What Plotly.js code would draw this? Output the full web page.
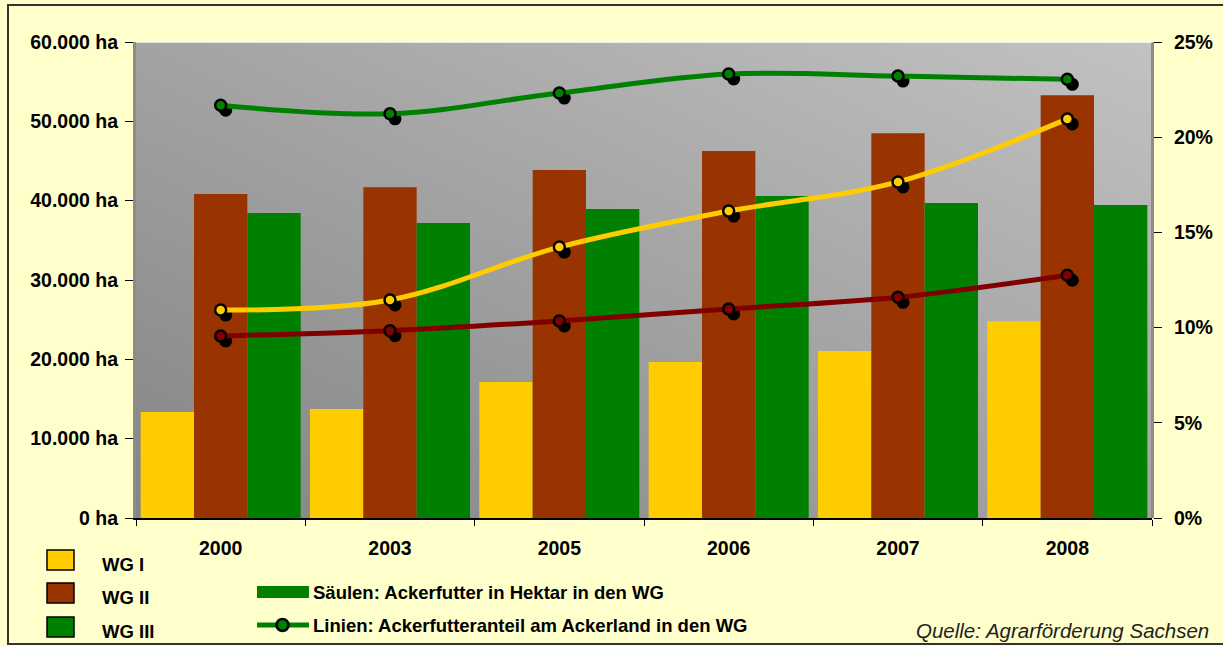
<!DOCTYPE html>
<html>
<head>
<meta charset="utf-8">
<script src="https://cdn.plot.ly/plotly-3.0.1.min.js"></script>
<style>html,body{margin:0;padding:0;background:#FFFFCC;}#chart{width:1223px;height:646px;}</style>
</head>
<body>
<div id="chart"></div>
<script>
// ---- data ----
const years = ['2000', '2003', '2005', '2006', '2007', '2008'];
const wg1Ha = [13350, 13750, 17150, 19650, 21050, 24800];
const wg2Ha = [40850, 41700, 43850, 46250, 48500, 53300];
const wg3Ha = [38450, 37200, 38950, 40600, 39700, 39450];
const wg1Pct = [10.92, 11.45, 14.23, 16.12, 17.65, 20.96];
const wg2Pct = [9.56, 9.84, 10.35, 10.98, 11.59, 12.75];
const wg3Pct = [21.68, 21.23, 22.32, 23.32, 23.21, 23.04];
const seriesNames = ['WG I', 'WG II', 'WG III'];
const legendBars = 'Säulen: Ackerfutter in Hektar in den WG';
const legendLines = 'Linien: Ackerfutteranteil am Ackerland in den WG';
const sourceText = 'Quelle: Agrarförderung Sachsen';

// ---- styling ----
const barColors = ['#FFCC00', '#993300', '#008000'];
const lineColors = ['#FFCC00', '#800000', '#008000'];
const FONT = 'Liberation Sans, Arial, sans-serif';
const W = 1223, H = 646;
const L = 136, R = 71, T = 42, B = 128;
const PW = W - L - R, PH = H - T - B;
const SH = 5; // shadow offset in px
const px = p => (p - L) / PW;
const py = p => (T + PH - p) / PH;

const traces = [];
[wg1Ha, wg2Ha, wg3Ha].forEach((vals, i) => {
  traces.push({
    type: 'bar', x: years, y: vals, name: seriesNames[i],
    marker: {color: barColors[i], line: {width: 0}},
    xaxis: 'x', yaxis: 'y', hoverinfo: 'skip'
  });
});
// shadows of the markers
[wg1Pct, wg2Pct, wg3Pct].forEach((vals, i) => {
  traces.push({
    type: 'scatter', mode: 'markers', x: years, y: vals,
    marker: {color: '#000', size: 13},
    xaxis: 'x2', yaxis: 'y3', cliponaxis: false, hoverinfo: 'skip'
  });
});
// lines
[wg1Pct, wg2Pct, wg3Pct].forEach((vals, i) => {
  traces.push({
    type: 'scatter', mode: 'lines+markers', x: years, y: vals,
    line: {color: lineColors[i], width: 5, shape: 'spline', smoothing: 1},
    marker: {color: lineColors[i], size: 11, line: {color: '#000', width: 2.5}},
    xaxis: 'x3', yaxis: 'y4', cliponaxis: false, hoverinfo: 'skip'
  });
});

const gradSvg = '<svg xmlns="http://www.w3.org/2000/svg" width="' + PW + '" height="' + PH + '" viewBox="0 0 ' + PW + ' ' + PH + '" preserveAspectRatio="none">' +
  '<defs><linearGradient id="g" x1="0" y1="1" x2="1" y2="0">' +
  '<stop offset="0" stop-color="#848484"/><stop offset="1" stop-color="#c2c2c2"/>' +
  '</linearGradient></defs><rect x="0" y="0" width="' + PW + '" height="' + PH + '" fill="url(#g)"/></svg>';

const tickFont = {family: FONT, size: 19.5, color: '#000', weight: 'bold'};
const legFont = {family: FONT, size: 18.5, color: '#000', weight: 'bold'};

const shapes = [
  // outer frame
  {type: 'rect', xref: 'paper', yref: 'paper', x0: px(8), x1: px(1240), y0: py(644), y1: py(5),
   line: {color: '#333', width: 2}, layer: 'below'},
  // white top edge of plot area
  {type: 'line', xref: 'paper', yref: 'paper', x0: 0, x1: 1, y0: 1, y1: 1,
   line: {color: '#ffffff', width: 1.5}, layer: 'above'}
];
const sqY = [560, 593, 627];
sqY.forEach((cy, i) => {
  shapes.push({type: 'rect', xref: 'paper', yref: 'paper', x0: px(47), x1: px(74), y0: py(cy + 10), y1: py(cy - 10),
    fillcolor: barColors[i], line: {color: '#000', width: 1.5}});
});
shapes.push({type: 'rect', xref: 'paper', yref: 'paper', x0: px(257), x1: px(309), y0: py(598), y1: py(586),
  fillcolor: '#008000', line: {width: 0}});
shapes.push({type: 'line', xref: 'paper', yref: 'paper', x0: px(257), x1: px(309), y0: py(625), y1: py(625),
  line: {color: '#008000', width: 5}});
shapes.push({type: 'circle', xref: 'paper', yref: 'paper', x0: px(276.5), x1: px(288.5), y0: py(631), y1: py(619),
  fillcolor: '#008000', line: {color: '#000', width: 2.5}});

const annotations = [];
seriesNames.forEach((n, i) => {
  annotations.push({text: n, xref: 'paper', yref: 'paper', x: px(100), y: py(sqY[i] + 4),
    xanchor: 'left', yanchor: 'middle', showarrow: false, font: legFont});
});
annotations.push({text: legendBars, xref: 'paper', yref: 'paper', x: px(311), y: py(592),
  xanchor: 'left', yanchor: 'middle', showarrow: false, font: legFont});
annotations.push({text: legendLines, xref: 'paper', yref: 'paper', x: px(311), y: py(625),
  xanchor: 'left', yanchor: 'middle', showarrow: false, font: legFont});
annotations.push({text: '<i>' + sourceText + '</i>', xref: 'paper', yref: 'paper', x: px(1211), y: py(630),
  xanchor: 'right', yanchor: 'middle', showarrow: false,
  font: {family: FONT, size: 20.5, color: '#222'}});

const catRange = [-0.5, 5.5 - 6 * SH / PW];
const layout = {
  width: W, height: H,
  margin: {l: L, r: R, t: T, b: B, pad: 0},
  paper_bgcolor: '#FFFFCC', plot_bgcolor: 'rgba(0,0,0,0)',
  separators: ',.',
  showlegend: false,
  font: {family: FONT, color: '#000'},
  barmode: 'group', bargap: 0.055, bargroupgap: 0,
  xaxis: {type: 'category', domain: [0, 1], anchor: 'y', range: [-0.5, 5.5],
    tickson: 'boundaries', ticks: 'outside', ticklen: 6, tickwidth: 1, tickcolor: '#000',
    showline: true, linecolor: '#000', linewidth: 1.5, showgrid: false, zeroline: false,
    tickfont: tickFont, ticklabelstandoff: 12, fixedrange: true},
  yaxis: {domain: [0, 1], anchor: 'x', range: [0, 60000], dtick: 10000, tickformat: ',d', ticksuffix: ' ha',
    ticks: 'outside', ticklen: 8, tickwidth: 1, tickcolor: '#000',
    showline: true, linecolor: '#8c8c8c', linewidth: 3, showgrid: false, zeroline: false,
    tickfont: tickFont, ticklabelstandoff: 3, fixedrange: true},
  xaxis2: {type: 'category', domain: [SH / PW, 1], range: catRange, anchor: 'y3', visible: false, fixedrange: true},
  yaxis3: {domain: [0, 1 - SH / PH], range: [25 * SH / PH, 25], anchor: 'x2', visible: false, fixedrange: true},
  xaxis3: {type: 'category', domain: [0, 1 - SH / PW], range: catRange, anchor: 'y4', visible: false, fixedrange: true},
  yaxis4: {domain: [0, 1], range: [0, 25], anchor: 'free', position: 1, side: 'right', dtick: 5, ticksuffix: '%',
    ticks: 'outside', ticklen: 8, tickwidth: 1, tickcolor: '#000',
    showline: true, linecolor: '#8c8c8c', linewidth: 3, showgrid: false, zeroline: false,
    tickfont: tickFont, ticklabelstandoff: 8, fixedrange: true},
  images: [{source: 'data:image/svg+xml;charset=utf-8,' + encodeURIComponent(gradSvg),
    xref: 'paper', yref: 'paper', x: 0, y: 1, sizex: 1, sizey: 1,
    sizing: 'stretch', xanchor: 'left', yanchor: 'top', layer: 'below'}],
  shapes: shapes,
  annotations: annotations
};

Plotly.newPlot('chart', traces, layout, {displayModeBar: false, staticPlot: true});
</script>
</body>
</html>
